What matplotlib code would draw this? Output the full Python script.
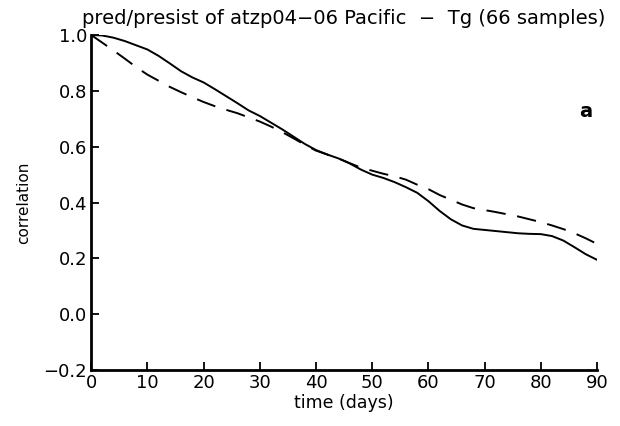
import matplotlib
matplotlib.use("Agg")
import matplotlib.pyplot as plt

days = [0, 2, 4, 6, 8, 10, 12, 14, 16, 18, 20, 22, 24, 26, 28, 30, 32, 34, 36, 38,
        40, 42, 44, 46, 48, 50, 52, 54, 56, 58, 60, 62, 64, 66, 68, 70, 72, 74, 76,
        78, 80, 82, 84, 86, 88, 90]
pred = [1.0, 0.998, 0.99, 0.978, 0.963, 0.948, 0.925, 0.898, 0.870, 0.848, 0.830,
        0.806, 0.781, 0.756, 0.730, 0.710, 0.686, 0.662, 0.636, 0.610, 0.588, 0.572,
        0.558, 0.540, 0.518, 0.500, 0.488, 0.473, 0.455, 0.435, 0.405, 0.370, 0.340,
        0.318, 0.306, 0.302, 0.298, 0.294, 0.290, 0.288, 0.287, 0.280, 0.264, 0.240,
        0.215, 0.195]
persist = [1.0, 0.972, 0.944, 0.915, 0.885, 0.858, 0.836, 0.814, 0.795, 0.777, 0.760,
           0.745, 0.732, 0.720, 0.705, 0.690, 0.672, 0.652, 0.630, 0.607, 0.586, 0.572,
           0.558, 0.541, 0.525, 0.514, 0.503, 0.494, 0.482, 0.464, 0.448, 0.427, 0.410,
           0.393, 0.380, 0.373, 0.366, 0.358, 0.350, 0.340, 0.330, 0.318, 0.305, 0.290,
           0.272, 0.252]
xticks = [0, 10, 20, 30, 40, 50, 60, 70, 80, 90]
yticks = [-0.2, 0.0, 0.2, 0.4, 0.6, 0.8, 1.0]
title = "pred/presist of atzp04\u221206 Pacific  \u2212  Tg (66 samples)"

fig = plt.figure(figsize=(6.2, 4.26), dpi=100)
ax = fig.add_axes([0.147, 0.131, 0.816, 0.787])
ax.plot(days, pred, color="black", lw=1.4, solid_capstyle="round")
ax.plot(days, persist, color="black", lw=1.4, dashes=(10, 6))

ax.set_xlim(0, 90)
ax.set_ylim(-0.2, 1.0)
ax.set_xticks(xticks)
ax.set_yticks(yticks)
ax.set_yticklabels([f"{v:.1f}".replace("-", "\u2212") for v in yticks])
for s in ["top", "right"]:
    ax.spines[s].set_visible(False)
for s in ["left", "bottom"]:
    ax.spines[s].set_linewidth(2.0)
ax.tick_params(direction="in", length=6, width=1.3, labelsize=13, pad=3)
ax.set_xlabel("time (days)", fontsize=12.5, labelpad=1)
ax.set_ylabel("correlation", fontsize=11, labelpad=9)
ax.set_title(title, fontsize=14, pad=8)
ax.text(87.9, 0.725, "a", fontsize=14, fontweight="bold", ha="center", va="center")

fig.savefig("out.png", dpi=100)
